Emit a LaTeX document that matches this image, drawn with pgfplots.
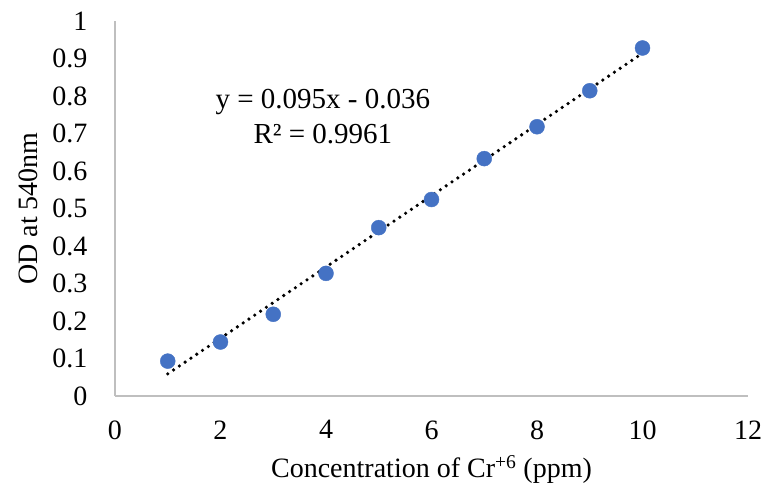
\documentclass[border=0pt]{standalone}
\usepackage{fontspec}
\setmainfont{Liberation Serif}
\usepackage{pgfplots}
\pgfplotsset{compat=1.18}
\definecolor{ptblue}{HTML}{4472C4}
\definecolor{axgray}{HTML}{BFBFBF}
\begin{document}
\fontsize{28}{33}\selectfont
\begin{tikzpicture}
\begin{axis}[
scale only axis,
width=633pt, height=375pt,
xmin=0, xmax=12, ymin=0, ymax=1,
xtick={0,2,...,12},
ytick={0,0.1,...,1},
yticklabel style={/pgf/number format/fixed},
/pgf/number format/assume math mode=true,
axis lines*=left,
axis line style={axgray, line width=1.2pt},
major tick length=0pt,
tick label style={font=\fontsize{28}{33}\selectfont},
xticklabel style={yshift=-15pt},
yticklabel style={xshift=-18pt},
label style={font=\fontsize{28}{33}\selectfont},
xlabel={Concentration of Cr\textsuperscript{+6} (ppm)},
ylabel={OD at 540nm},
xlabel style={yshift=3pt},
ylabel style={yshift=-4pt},
clip=false,
]
\addplot[only marks, mark=*, mark size=7.5pt, mark options={ptblue, draw=ptblue}] coordinates {
(1,0.093) (2,0.144) (3,0.218) (4,0.327) (5,0.449)
(6,0.524) (7,0.633) (8,0.718) (9,0.814) (10,0.928)
};
\addplot[black, line width=3.6pt, line cap=round, dash pattern=on 0pt off 7pt] coordinates {
(1,0.059) (10,0.914)
};
\node[align=center, font=\fontsize{29}{35}\selectfont] at (axis cs:3.94,0.745) {y = 0.095x - 0.036\\R² = 0.9961};
\end{axis}
\pgfresetboundingbox
\path[use as bounding box] ([shift={(-115pt,-97pt)}]current axis.south west) rectangle ([shift={(18pt,21pt)}]current axis.north east);
\end{tikzpicture}
\end{document}
